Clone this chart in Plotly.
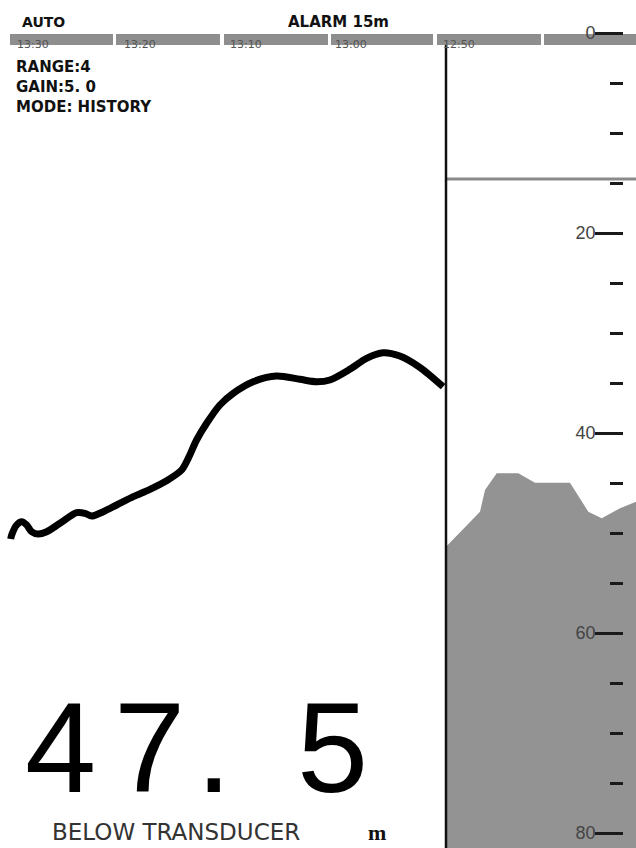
import plotly.graph_objects as go

# ---------------- data ----------------
# History trace (left panel): elapsed minutes vs depth (m)
HIST_MIN = [1.0, 1.09, 1.56, 2.03, 2.50, 2.96, 3.58, 4.36, 5.61, 7.17, 7.94, 8.57, 9.65,
            10.91, 12.46, 14.02, 15.58, 16.98, 17.6, 18.38, 19.32, 20.56, 21.80, 23.67,
            25.86, 28.04, 29.6, 30.84, 32.71, 34.27, 35.82, 37.38, 39.25, 41.43]
HIST_DEPTH = [50.6, 50.2, 49.2, 48.87, 49.2, 49.87, 50.1, 49.87, 49.03, 47.97, 48.03, 48.3, 47.87,
              47.2, 46.37, 45.63, 44.77, 43.7, 42.53, 40.7, 39.03, 37.2, 36.03, 34.87,
              34.3, 34.63, 34.87, 34.7, 33.63, 32.53, 31.97, 32.3, 33.43, 35.37]

# Live echo (right panel): ping index vs bottom depth (m)
ECHO_PING = [0.0, 3.4, 3.9, 5.07, 7.23, 8.9, 12.4, 14.23, 15.57, 17.4, 19.0]
ECHO_DEPTH = [51.37, 47.87, 45.7, 44.03, 44.03, 44.97, 44.97, 47.87, 48.53, 47.53, 46.87]

DEPTH_TICKS = [0, 20, 40, 60, 80]
TIME_LABELS = ["13:30", "13:20", "13:10", "13:00", "12:50"]
TIME_POS = [1.4, 11.4, 21.3, 31.1, 41.2]
ALARM_DEPTH = 14.6
READOUT = "47. 5"
INFO_LINES = ["RANGE:4", "GAIN:5. 0", "MODE: HISTORY"]

# ---------------- layout helpers ----------------
W, H = 636, 848
Y_TOP, Y_BOT = -3.3, 81.5
def px(x):
    return x / W
def py(y):
    return 1 - y / H

DIV = 446 / W
GRAY = "#939393"

fig = go.Figure()

# right panel bottom echo fill
fig.add_trace(go.Scatter(
    x=ECHO_PING + [ECHO_PING[-1], ECHO_PING[0]],
    y=ECHO_DEPTH + [Y_BOT, Y_BOT],
    fill="toself", fillcolor=GRAY, line=dict(width=0), mode="lines",
    xaxis="x2", yaxis="y", hoverinfo="skip", showlegend=False))

# left panel history line
fig.add_trace(go.Scatter(
    x=HIST_MIN, y=HIST_DEPTH, mode="lines",
    line=dict(color="black", width=7, shape="spline", smoothing=0.8),
    xaxis="x", yaxis="y", hoverinfo="skip", showlegend=False))

# empty trace on the overlay depth scale so its ticks are drawn above the echo fill
fig.add_trace(go.Scatter(x=[None], y=[None], xaxis="x2", yaxis="y2",
                         mode="lines", hoverinfo="skip", showlegend=False))

shapes = []
# top time bar segments
segs = [(10, 113), (116, 220), (224, 328), (331, 433), (437, 541), (544, 636)]
for a, b in segs:
    shapes.append(dict(type="rect", xref="paper", yref="paper",
                       x0=px(a), x1=px(b), y0=py(45), y1=py(34),
                       fillcolor="#8e8e8e", line=dict(width=0), layer="below"))
# alarm line
shapes.append(dict(type="line", xref="paper", yref="y", x0=DIV, x1=1,
                   y0=ALARM_DEPTH, y1=ALARM_DEPTH, line=dict(color="#8a8a8a", width=3)))
# divider
shapes.append(dict(type="line", xref="paper", yref="paper", x0=DIV, x1=DIV,
                   y0=0, y1=py(45), line=dict(color="#111", width=2.5)))

ann = []
ann.append(dict(text="AUTO", xref="paper", yref="paper", x=px(20), y=py(22),
                xanchor="left", yanchor="middle", showarrow=False,
                font=dict(family="DejaVu Sans", size=14, color="#111", weight="bold")))
ann.append(dict(text="ALARM 15m", xref="paper", yref="paper", x=px(338), y=py(22),
                xanchor="center", yanchor="middle", showarrow=False,
                font=dict(family="DejaVu Sans", size=15, color="#111", weight="bold")))
for i, t in enumerate(INFO_LINES):
    ann.append(dict(text=t, xref="paper", yref="paper", x=px(14), y=py(67 + 20 * i),
                    xanchor="left", yanchor="middle", showarrow=False,
                    font=dict(family="DejaVu Sans", size=15, color="#111", weight="bold")))
for t, p in zip(TIME_LABELS, TIME_POS):
    ann.append(dict(text=t, xref="x", yref="paper", x=p, y=py(44.5),
                    xanchor="left", yanchor="middle", showarrow=False,
                    font=dict(family="DejaVu Sans", size=11, color="#555")))

# big readout, character by character
cx = {0: 60.5, 1: 149, 2: 214, 4: 332.5}
for i, ch in enumerate(READOUT):
    if ch == " ":
        continue
    ann.append(dict(text=ch, xref="paper", yref="paper", x=px(cx[i]), y=py(747),
                    xanchor="center", yanchor="middle", showarrow=False,
                    font=dict(family="Liberation Sans", size=128, color="black")))
ann.append(dict(text="BELOW TRANSDUCER", xref="paper", yref="paper", x=px(175.5), y=py(831.5),
                xanchor="center", yanchor="middle", showarrow=False,
                font=dict(family="DejaVu Sans", size=23, color="#333")))
ann.append(dict(text="m", xref="paper", yref="paper", x=px(377), y=py(832),
                xanchor="center", yanchor="middle", showarrow=False,
                font=dict(family="Liberation Serif", size=22, color="#111", weight="bold")))

depth_axis = dict(range=[Y_BOT, Y_TOP], domain=[0, 1], showgrid=False,
                  zeroline=False, showline=False)

fig.update_layout(
    width=W, height=H, margin=dict(l=0, r=0, t=0, b=0),
    paper_bgcolor="white", plot_bgcolor="rgba(0,0,0,0)",
    showlegend=False,
    xaxis=dict(domain=[0, DIV], range=[0, 41.7], visible=False, anchor="y"),
    xaxis2=dict(domain=[DIV, 1], range=[0, 19.0], visible=False, anchor="y"),
    yaxis=dict(**depth_axis, visible=False),
    yaxis2=dict(**depth_axis, overlaying="y", anchor="free", position=623 / W,
                side="right", tickvals=DEPTH_TICKS, ticks="inside", ticklen=28,
                tickwidth=3, tickcolor="#1a1a1a", ticklabelposition="inside",
                tickfont=dict(family="Liberation Sans", size=18, color="#444"),
                minor=dict(dtick=5, ticks="inside", ticklen=13, tickwidth=3,
                           tickcolor="#1a1a1a", showgrid=False)),
    shapes=shapes, annotations=ann,
)

fig.write_html(
    "out.html",
    config={"displayModeBar": False},
    post_script="document.body.style.margin='0';document.body.style.overflow='hidden';",
)
